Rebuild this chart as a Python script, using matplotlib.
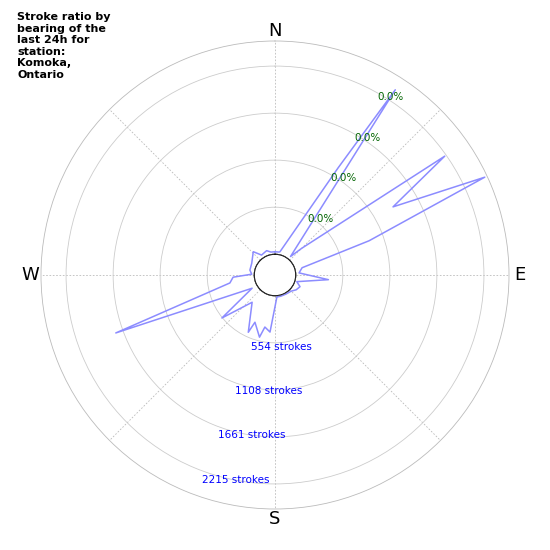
import numpy as np
import matplotlib
matplotlib.use("Agg")
import matplotlib.pyplot as plt

# bearing in degrees (clockwise from north) and stroke counts
bearings = [0, 10, 12, 30.5, 33, 40, 45, 50, 55, 60, 65, 70, 75, 85, 95, 107, 115,
            125, 135, 150, 165, 175, 185, 191, 194, 203, 205, 220, 231, 240, 250,
            260, 267, 272, 281, 297, 317, 326, 341, 350]
strokes = [30, 30, 35, 1220, 2355, 40, 200, 505, 2195, 1360, 2480, 935, 86, 40, 387,
           24, 81, 60, 25, 15, 15, 15, 430, 380, 510, 360, 500, 175, 560, 67, 1750,
           295, 250, 30, 57, 63, 131, 39, 59, 30]
ring_values = [554, 1108, 1661, 2215]
ring_labels = ["554 strokes", "1108 strokes", "1661 strokes", "2215 strokes"]
pct_labels = ["0.0%", "0.0%", "0.0%", "0.0%"]
title = "Stroke ratio by\nbearing of the\nlast 24h for\nstation:\nKomoka,\nOntario"

fig = plt.figure(figsize=(5.5, 5.5), dpi=100)
ax = fig.add_axes([41 / 550, 41 / 550, 468 / 550, 468 / 550], projection="polar")
ax.set_theta_zero_location("N")
ax.set_theta_direction(-1)
ax.set_ylim(0, 2510)
ax.set_rorigin(-244)

theta = np.deg2rad(bearings + [bearings[0]])
r = strokes + [strokes[0]]
ax.plot(theta, r, color="#8c8cff", lw=1.1, zorder=3)

# inner hole outline
t = np.linspace(0, 2 * np.pi, 200)
ax.plot(t, np.zeros_like(t), color="#444444", lw=0.8, zorder=4)

ax.set_thetagrids(range(0, 360, 45), ["N", "", "E", "", "S", "", "W", ""], fontsize=13)
ax.tick_params(axis="x", pad=-3)
ax.set_yticks(ring_values)
ax.set_yticklabels([])
ax.xaxis.grid(True, color="#bbbbbb", ls=(0, (2, 2)), lw=0.6)
ax.yaxis.grid(True, color="#cccccc", ls="-", lw=0.6)
ax.spines["polar"].set_color("#bbbbbb")
ax.spines["polar"].set_linewidth(0.6)

for v, lab in zip(ring_values, ring_labels):
    ax.text(np.deg2rad(200), v + 40, lab, color="blue", fontsize=7.5, ha="left", va="top")
for v, lab in zip(ring_values, pct_labels):
    ax.text(np.deg2rad(30), v - 40, lab, color="darkgreen", fontsize=7.5, ha="left", va="center")

fig.text(17 / 550, 1 - 12 / 550, title, fontsize=8, fontweight="bold", ha="left", va="top",
         linespacing=1.2)

fig.savefig("out.png")
